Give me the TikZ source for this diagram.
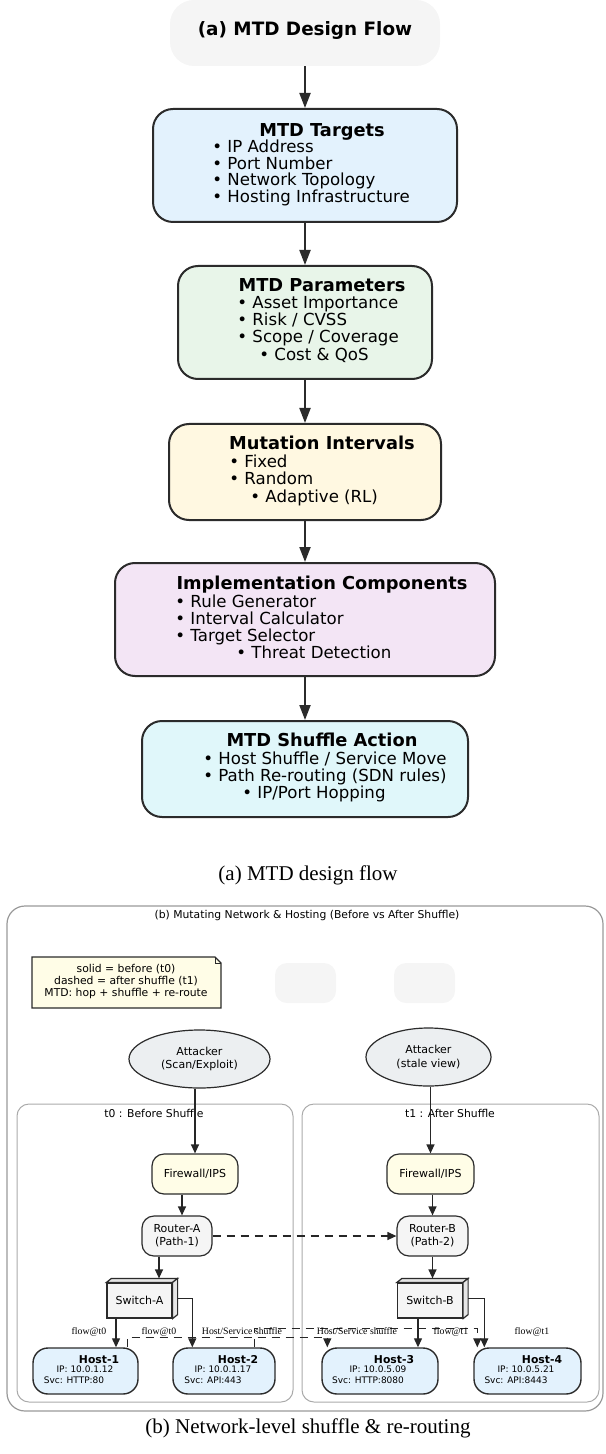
\documentclass[tikz,border=0pt]{standalone}
\usepackage{fontspec}
\setmainfont{DejaVu Sans}
\newfontfamily\capfont{Liberation Serif}
\usetikzlibrary{arrows.meta,shapes.geometric,calc}
\definecolor{ink}{HTML}{2B2B2B}
\definecolor{hdr}{HTML}{F5F5F5}
\definecolor{cTarg}{HTML}{E3F2FD}
\definecolor{cPar}{HTML}{E8F5E9}
\definecolor{cInt}{HTML}{FFF8E1}
\definecolor{cImp}{HTML}{F3E5F5}
\definecolor{cShu}{HTML}{E0F7FA}
\definecolor{cFw}{HTML}{FFFDE7}
\definecolor{cAtt}{HTML}{ECEFF1}
\definecolor{cFrame}{HTML}{999999}
\definecolor{cPanel}{HTML}{AAAAAA}
\definecolor{cSide}{HTML}{E6E6E6}
\begin{document}
\begin{tikzpicture}[x=0.5pt,y=-0.5pt,
  fbox/.style={draw=ink, line width=1pt, rounded corners=10pt, inner sep=0},
  btitle/.style={font=\bfseries\fontsize{8.9}{10}\selectfont, inner sep=0, text height=6.5pt, text depth=0pt},
  item/.style={font=\fontsize{8.3}{9}\selectfont, anchor=west, inner sep=0, text height=6pt, text depth=0pt},
  barr/.style={draw=ink, line width=1pt, -{Triangle[length=7.5pt,width=5.5pt]}},
  stext/.style={font=\fontsize{5.4}{7}\selectfont, inner sep=0, align=center},
  dev/.style={draw=ink, line width=0.6pt, rounded corners=6pt, minimum height=20pt, inner sep=0, align=center, font=\fontsize{5.5}{6.6}\selectfont},
  att/.style={ellipse, draw=ink, line width=0.6pt, fill=cAtt, minimum height=29pt, inner sep=0, align=center, font=\fontsize{5.5}{6.6}\selectfont},
  swbox/.style={draw=ink, line width=0.6pt, fill=hdr, minimum width=32.5pt, minimum height=17.5pt, inner sep=0, font=\fontsize{5.5}{6.6}\selectfont},
  host/.style={draw=ink, line width=0.7pt, fill=cTarg, rounded corners=7.5pt, minimum height=23pt, inner sep=0},
  hname/.style={font=\bfseries\fontsize{5.4}{6}\selectfont, inner sep=0},
  hline/.style={font=\fontsize{4.5}{5}\selectfont, inner sep=0},
  sarr/.style={draw=black!85, line width=0.6pt, -{Triangle[length=4.5pt,width=4pt]}},
  elab/.style={font=\capfont\fontsize{4.9}{5}\selectfont, inner sep=0},
  captxt/.style={font=\capfont\fontsize{10.5}{12}\selectfont, inner sep=0}
]
\useasboundingbox (0,0) rectangle (605,1454);

% ---------- (a) design flow ----------
\node[fill=hdr, rounded corners=12pt, minimum width=135pt, minimum height=33pt, inner sep=0] (hdr) at (305,33) {};
\node[font=\bfseries\fontsize{9.2}{10}\selectfont, inner sep=0] (hdrT) at (305,31) {(a) MTD Design Flow};

\node[fbox, fill=cTarg, minimum width=152pt, minimum height=56.5pt] (targ) at (305,165.5) {};
\node[btitle] (targT) at (322,130) {MTD Targets};
\node[item] (targ1) at (212,147) {• IP Address};
\node[item] (targ2) at (212,163.5) {• Port Number};
\node[item] (targ3) at (212,180) {• Network Topology};
\node[item] (targ4) at (212,197) {• Hosting Infrastructure};

\node[fbox, fill=cPar, minimum width=127pt, minimum height=56.5pt] (par) at (305,322.5) {};
\node[btitle] (parT) at (322,285) {MTD Parameters};
\node[item] (par1) at (237,303) {• Asset Importance};
\node[item] (par2) at (237,320) {• Risk / CVSS};
\node[item] (par3) at (237,337) {• Scope / Coverage};
\node[item] (par4) at (259,355) {• Cost \& QoS};

\node[fbox, fill=cInt, minimum width=136pt, minimum height=48pt] (intv) at (305,472) {};
\node[btitle] (intvT) at (322,443) {Mutation Intervals};
\node[item] (intv1) at (229,461) {• Fixed};
\node[item] (intv2) at (229,478) {• Random};
\node[item] (intv3) at (250,496) {• Adaptive (RL)};

\node[fbox, fill=cImp, minimum width=190pt, minimum height=56.5pt] (impl) at (305,619.5) {};
\node[btitle] (implT) at (322,583) {Implementation Components};
\node[item] (impl1) at (175,601) {• Rule Generator};
\node[item] (impl2) at (175,618) {• Interval Calculator};
\node[item] (impl3) at (175,635) {• Target Selector};
\node[item] (impl4) at (236,652) {• Threat Detection};

\node[fbox, fill=cShu, minimum width=163pt, minimum height=48pt] (shu) at (305,769) {};
\node[btitle] (shuT) at (322,740) {MTD Shuffle Action};
\node[item] (shu1) at (203,758) {• Host Shuffle / Service Move};
\node[item] (shu2) at (203,775) {• Path Re-routing (SDN rules)};
\node[item] (shu3) at (242,792) {• IP/Port Hopping};

\draw[barr] (hdr.south) -- (targ.north);
\draw[barr] (targ.south) -- (par.north);
\draw[barr] (par.south) -- (intv.north);
\draw[barr] (intv.south) -- (impl.north);
\draw[barr] (impl.south) -- (shu.north);

\node[captxt] (capA) at (308,875) {(a) MTD design flow};

% ---------- (b) network ----------
\draw[draw=cFrame, line width=0.6pt, rounded corners=9pt] (7,906) rectangle (603,1411);
\node[stext] (bT) at (307,916) {(b) Mutating Network \& Hosting (Before vs After Shuffle)};

\filldraw[fill=cFw, draw=ink, line width=0.6pt] (32,957) -- (215,957) -- (221,963) -- (221,1008) -- (32,1008) -- cycle;
\draw[ink, line width=0.4pt] (215,957) -- (215,963) -- (221,963);
\node[stext, font=\fontsize{5.4}{6}\selectfont] (note) at (126,982) {solid = before (t0)\\dashed = after shuffle (t1)\\MTD: hop + shuffle + re-route};

\node[fill=hdr, rounded corners=6pt, minimum width=30.5pt, minimum height=20pt, inner sep=0] (ghost1) at (305.5,983) {};
\node[fill=hdr, rounded corners=6pt, minimum width=30.5pt, minimum height=20pt, inner sep=0] (ghost2) at (424.5,983) {};

\node[att, minimum width=70.5pt] (attL) at (199.5,1059) {Attacker\\(Scan/Exploit)};
\node[att, minimum width=62.5pt] (attR) at (428.5,1057) {Attacker\\(stale view)};

\draw[draw=cPanel, line width=0.5pt, rounded corners=6pt] (17,1104) rectangle (293,1402);
\draw[draw=cPanel, line width=0.5pt, rounded corners=6pt] (302,1104) rectangle (599,1402);
\node[stext] (p0T) at (154,1113) {t0 : Before Shuffle};
\node[stext] (p1T) at (450,1113) {t1 : After Shuffle};

\node[dev, fill=cFw, minimum width=43pt] (fwA) at (195,1174) {Firewall/IPS};
\node[dev, fill=cFw, minimum width=43.5pt] (fwB) at (430.5,1174) {Firewall/IPS};
\node[dev, fill=hdr, minimum width=35pt] (rA) at (177,1236) {Router-A\\(Path-1)};
\node[dev, fill=hdr, minimum width=35.5pt] (rB) at (432.5,1236) {Router-B\\(Path-2)};

\node[swbox] (swA) at (139.5,1300.5) {Switch-A};
\filldraw[fill=cSide, draw=ink, line width=0.6pt] (swA.north west) -- ++(5,-4) -- ($(swA.north east)+(5,-4)$) -- (swA.north east) -- cycle;
\filldraw[fill=cSide, draw=ink, line width=0.6pt] (swA.north east) -- ++(5,-4) -- ($(swA.south east)+(5,-4)$) -- (swA.south east) -- cycle;
\coordinate (swAtop) at ($(swA.north)+(0,-4)$);

\node[swbox] (swB) at (430,1300.5) {Switch-B};
\filldraw[fill=cSide, draw=ink, line width=0.6pt] (swB.north west) -- ++(5,-4) -- ($(swB.north east)+(5,-4)$) -- (swB.north east) -- cycle;
\filldraw[fill=cSide, draw=ink, line width=0.6pt] (swB.north east) -- ++(5,-4) -- ($(swB.south east)+(5,-4)$) -- (swB.south east) -- cycle;
\coordinate (swBtop) at ($(swB.north)+(0,-4)$);

\node[host, minimum width=52.5pt] (h1) at (85.5,1371) {};
\node[hname] (h1n) at (99,1360) {Host-1};
\node[hline] (h1i) at (85,1369.5) {IP: 10.0.1.12};
\node[hline] (h1s) at (74,1380) {Svc: HTTP:80};

\node[host, minimum width=51pt] (h2) at (224,1371) {};
\node[hname] (h2n) at (238,1360) {Host-2};
\node[hline] (h2i) at (223,1369.5) {IP: 10.0.1.17};
\node[hline] (h2s) at (213,1380) {Svc: API:443};

\node[host, minimum width=58pt] (h3) at (380,1371) {};
\node[hname] (h3n) at (394,1360) {Host-3};
\node[hline] (h3i) at (378,1369.5) {IP: 10.0.5.09};
\node[hline] (h3s) at (368,1380) {Svc: HTTP:8080};

\node[host, minimum width=53.5pt] (h4) at (527.5,1371) {};
\node[hname] (h4n) at (542,1360) {Host-4};
\node[hline] (h4i) at (526,1369.5) {IP: 10.0.5.21};
\node[hline] (h4s) at (516,1380) {Svc: API:8443};

% connectors
\draw[sarr] (fwA.north |- attL.south) -- (fwA.north);
\draw[sarr] (fwB.north |- attR.south) -- (fwB.north);
\draw[sarr] ([xshift=2.5pt]rA.north |- fwA.south) -- ([xshift=2.5pt]rA.north);
\draw[sarr] (rB.north |- fwB.south) -- (rB.north);
\draw[sarr, dash pattern=on 4pt off 3pt] (rA.east) -- (rB.west);
\draw[sarr] ([xshift=-9pt]rA.south) -- ([xshift=-9pt]rA.south |- swAtop);
\draw[sarr] (rB.south) -- (rB.south |- swBtop);

\draw[sarr] ([xshift=-11.75pt]swA.south) -- ([xshift=-11.75pt]swA.south |- h1.north);
\draw[sarr] ($(swA.east)+(5,-2)$) -| ([xshift=10pt]h2.north west);
\draw[sarr] ([xshift=-6pt]swB.south) -- ([xshift=-6pt]swB.south |- h3.north);
\draw[sarr] ($(swB.east)+(5,-2)$) -| ([xshift=5.5pt]h4.north west);

\draw[sarr, dash pattern=on 4pt off 3pt] ([xshift=-5.5pt]h1.north east) -- ++(0,-10) -| ([xshift=3pt]h3.north west);
\draw[sarr, dash pattern=on 4pt off 3pt] ([xshift=-10.5pt]h2.north east) -- ++(0,-19) -| ([xshift=2pt]h4.north west);

\node[elab] (l1) at (89,1332) {flow@t0};
\node[elab] (l2) at (159,1332) {flow@t0};
\node[elab] (l3) at (242,1331) {Host/Service shuffle};
\node[elab] (l4) at (357,1331) {Host/Service shuffle};
\node[elab] (l5) at (451,1332) {flow@t1};
\node[elab] (l6) at (532,1332) {flow@t1};

\node[captxt] (capB) at (308,1428) {(b) Network-level shuffle \& re-routing};
\end{tikzpicture}
\end{document}
